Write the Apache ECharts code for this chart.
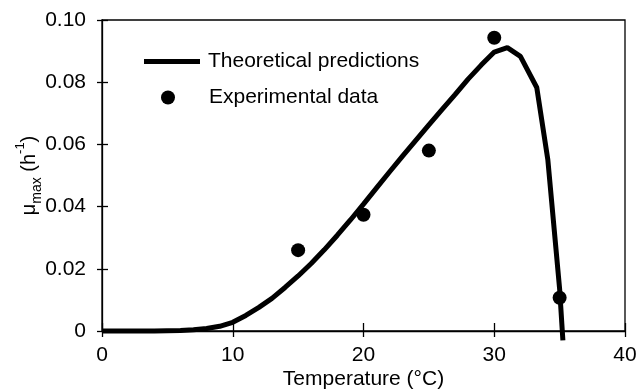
<!DOCTYPE html>
<html>
<head>
<meta charset="utf-8">
<script src="https://cdn.jsdelivr.net/npm/echarts@6/dist/echarts.min.js"></script>
<style>
  html, body { margin: 0; padding: 0; background: #fff; }
  #chart { width: 638px; height: 391px; }
</style>
</head>
<body>
<div id="chart"></div>
<script>
// theoretical curve
const predTemp = [0, 2, 4, 5, 6, 7, 8, 9, 10, 11, 12, 13, 14, 15, 16, 17, 18, 19, 20,
  21, 22, 23, 24, 25, 26, 27, 28, 29, 30, 31, 32, 33.25, 34.1, 35, 35.25]
const predMu = [0, 0, 0, 0.0001, 0.0002, 0.0004, 0.0008, 0.0015, 0.0028, 0.005, 0.0076,
  0.0105, 0.014, 0.0177, 0.0217, 0.0261, 0.0308, 0.0357, 0.0408, 0.046, 0.0512, 0.0563,
  0.0613, 0.0663, 0.0712, 0.076, 0.081, 0.0855, 0.0897, 0.0911, 0.0883, 0.0783, 0.055,
  0.0135, -0.003]

// experimental points
const expTemp = [15, 20, 25, 30, 35]
const expMu = [0.026, 0.0374, 0.058, 0.0943, 0.0107]

const seriesNames = ['Theoretical predictions', 'Experimental data']
const xTicks = [0, 10, 20, 30, 40]
const yTicks = [0, 0.02, 0.04, 0.06, 0.08, 0.1]

const font = 'Liberation Sans, Arial, Helvetica, sans-serif'
const fs = 21

const chart = echarts.init(document.getElementById('chart'))

const xBase = {
  type: 'value',
  min: xTicks[0],
  max: xTicks[xTicks.length - 1],
  interval: 10,
  position: 'bottom',
  splitLine: { show: false },
}
const yBase = {
  type: 'value',
  min: yTicks[0],
  max: yTicks[yTicks.length - 1],
  interval: 0.02,
  position: 'left',
  splitLine: { show: false },
}

chart.setOption({
  animation: false,
  grid: {
    left: 102, right: 13, top: 20, bottom: 60,
    outerBoundsMode: 'none',
    containLabel: false,
    show: true, borderColor: '#000', borderWidth: 1.3,
  },
  legend: [
    {
      data: [{ name: seriesNames[0], icon: 'rect' }],
      left: 139, top: 46,
      itemWidth: 56, itemHeight: 5,
      textStyle: { fontFamily: font, fontSize: fs, color: '#000', padding: [0, 0, 0, 3] },
    },
    {
      data: [{ name: seriesNames[1], icon: 'circle' }],
      left: 156, top: 82,
      itemWidth: 56, itemHeight: 14,
      textStyle: { fontFamily: font, fontSize: fs, color: '#000', padding: [0, 0, 0, 8] },
    },
  ],
  xAxis: [
    {
      ...xBase,
      name: 'Temperature (°C)',
      nameLocation: 'middle',
      nameGap: 38,
      nameMoveOverlap: false,
      nameTextStyle: { fontFamily: font, fontSize: fs, color: '#000' },
      axisLine: { lineStyle: { color: '#000', width: 1.3 } },
      axisTick: { length: 6, lineStyle: { color: '#000', width: 1.3 } },
      axisLabel: { fontFamily: font, fontSize: fs, color: '#000', margin: 14 },
    },
    {
      ...xBase,
      axisLine: { show: false },
      axisLabel: { show: false },
      axisTick: { inside: true, length: 8, lineStyle: { color: '#000', width: 1.3 } },
    },
  ],
  yAxis: [
    {
      ...yBase,
      name: '{t|μ}{sub|max}{t| (h}{sup|-1}{t|)}',
      nameLocation: 'middle',
      nameRotate: 90,
      nameGap: 58,
      nameMoveOverlap: false,
      nameTextStyle: {
        fontFamily: font, color: '#000',
        rich: {
          t: { fontFamily: font, fontSize: 20, color: '#000', lineHeight: 30 },
          sub: { fontFamily: font, fontSize: 14, color: '#000', lineHeight: 14, verticalAlign: 'bottom' },
          sup: { fontFamily: font, fontSize: 13, color: '#000', lineHeight: 13, verticalAlign: 'top' },
        },
      },
      axisLine: { lineStyle: { color: '#000', width: 1.3 } },
      axisTick: { length: 5, lineStyle: { color: '#000', width: 1.3 } },
      axisLabel: {
        fontFamily: font, fontSize: fs, color: '#000', margin: 16,
        formatter: v => (v === 0 ? '0' : v.toFixed(2)),
      },
    },
    {
      ...yBase,
      axisLine: { show: false },
      axisLabel: { show: false },
      axisTick: { inside: true, length: 6, lineStyle: { color: '#000', width: 1.3 } },
    },
  ],
  series: [
    {
      name: seriesNames[0],
      type: 'line',
      data: predTemp.map((t, i) => [t, predMu[i]]),
      showSymbol: false,
      smooth: false,
      clip: false,
      lineStyle: { color: '#000', width: 5 },
      itemStyle: { color: '#000' },
      z: 3,
    },
    {
      name: seriesNames[1],
      type: 'scatter',
      data: expTemp.map((t, i) => [t, expMu[i]]),
      symbol: 'circle',
      symbolSize: 14,
      itemStyle: { color: '#000', opacity: 1 },
      z: 4,
    },
  ],
})
</script>
</body>
</html>
